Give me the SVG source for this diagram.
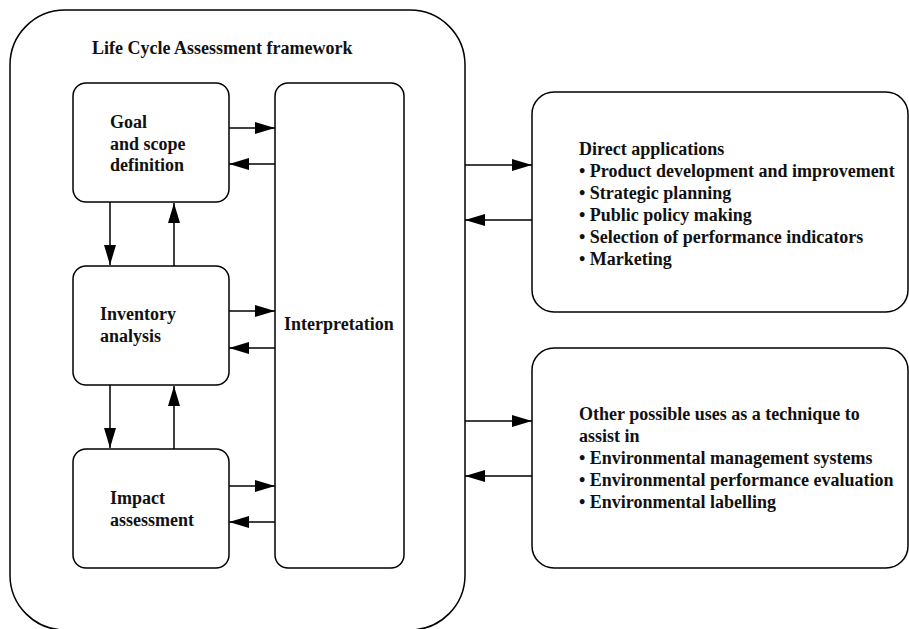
<svg xmlns="http://www.w3.org/2000/svg" width="909" height="629" viewBox="0 0 909 629">
<style>
.box{fill:none;stroke:#000;stroke-width:1.5}
.ln{fill:none;stroke:#000;stroke-width:1.5}
text{font-family:"Liberation Serif","Times New Roman",serif;font-weight:bold;font-size:18px;fill:#111}
</style>
<defs>
<marker id="ah" viewBox="0 0 20 12" refX="20" refY="6" markerWidth="20" markerHeight="12" markerUnits="userSpaceOnUse" orient="auto">
<path d="M0,0 L20,6 L0,12 Z" fill="#000"/>
</marker>
</defs>
<g id="frame">
<rect class="box" x="10" y="10" width="455" height="620" rx="55" ry="55"/>
<text x="92" y="54">Life Cycle Assessment framework</text>
</g>
<g id="goal">
<rect class="box" x="73" y="83" width="156" height="119" rx="13"/>
<text x="110" y="128">Goal</text>
<text x="110" y="150">and scope</text>
<text x="110" y="171">definition</text>
</g>
<g id="inventory">
<rect class="box" x="73" y="266" width="156" height="119" rx="13"/>
<text x="100" y="320">Inventory</text>
<text x="100" y="342">analysis</text>
</g>
<g id="impact">
<rect class="box" x="73" y="449" width="156" height="119" rx="13"/>
<text x="110" y="504">Impact</text>
<text x="110" y="526">assessment</text>
</g>
<g id="interpretation">
<rect class="box" x="275" y="83" width="129" height="485" rx="13"/>
<text x="284" y="330">Interpretation</text>
</g>
<g id="direct">
<rect class="box" x="532" y="92" width="376" height="220" rx="22"/>
<text x="579" y="155">Direct applications</text>
<text x="579" y="177">• Product development and improvement</text>
<text x="579" y="199">• Strategic planning</text>
<text x="579" y="221">• Public policy making</text>
<text x="579" y="243">• Selection of performance indicators</text>
<text x="579" y="265">• Marketing</text>
</g>
<g id="other">
<rect class="box" x="532" y="348" width="376" height="220" rx="22"/>
<text x="579" y="420">Other possible uses as a technique to</text>
<text x="579" y="442">assist in</text>
<text x="579" y="464">• Environmental management systems</text>
<text x="579" y="486">• Environmental performance evaluation</text>
<text x="579" y="508">• Environmental labelling</text>
</g>
<g id="connectors">
<line class="ln" x1="229" y1="128" x2="275" y2="128" marker-end="url(#ah)"/>
<line class="ln" x1="275" y1="164" x2="229" y2="164" marker-end="url(#ah)"/>
<line class="ln" x1="229" y1="311" x2="275" y2="311" marker-end="url(#ah)"/>
<line class="ln" x1="275" y1="348" x2="229" y2="348" marker-end="url(#ah)"/>
<line class="ln" x1="229" y1="486" x2="275" y2="486" marker-end="url(#ah)"/>
<line class="ln" x1="275" y1="522" x2="229" y2="522" marker-end="url(#ah)"/>
<line class="ln" x1="110" y1="202" x2="110" y2="265" marker-end="url(#ah)"/>
<line class="ln" x1="174" y1="266" x2="174" y2="203" marker-end="url(#ah)"/>
<line class="ln" x1="110" y1="385" x2="110" y2="448" marker-end="url(#ah)"/>
<line class="ln" x1="174" y1="449" x2="174" y2="386" marker-end="url(#ah)"/>
<line class="ln" x1="465" y1="165" x2="532" y2="165" marker-end="url(#ah)"/>
<line class="ln" x1="532" y1="220" x2="465" y2="220" marker-end="url(#ah)"/>
<line class="ln" x1="465" y1="421" x2="532" y2="421" marker-end="url(#ah)"/>
<line class="ln" x1="532" y1="476" x2="465" y2="476" marker-end="url(#ah)"/>
</g>
</svg>
